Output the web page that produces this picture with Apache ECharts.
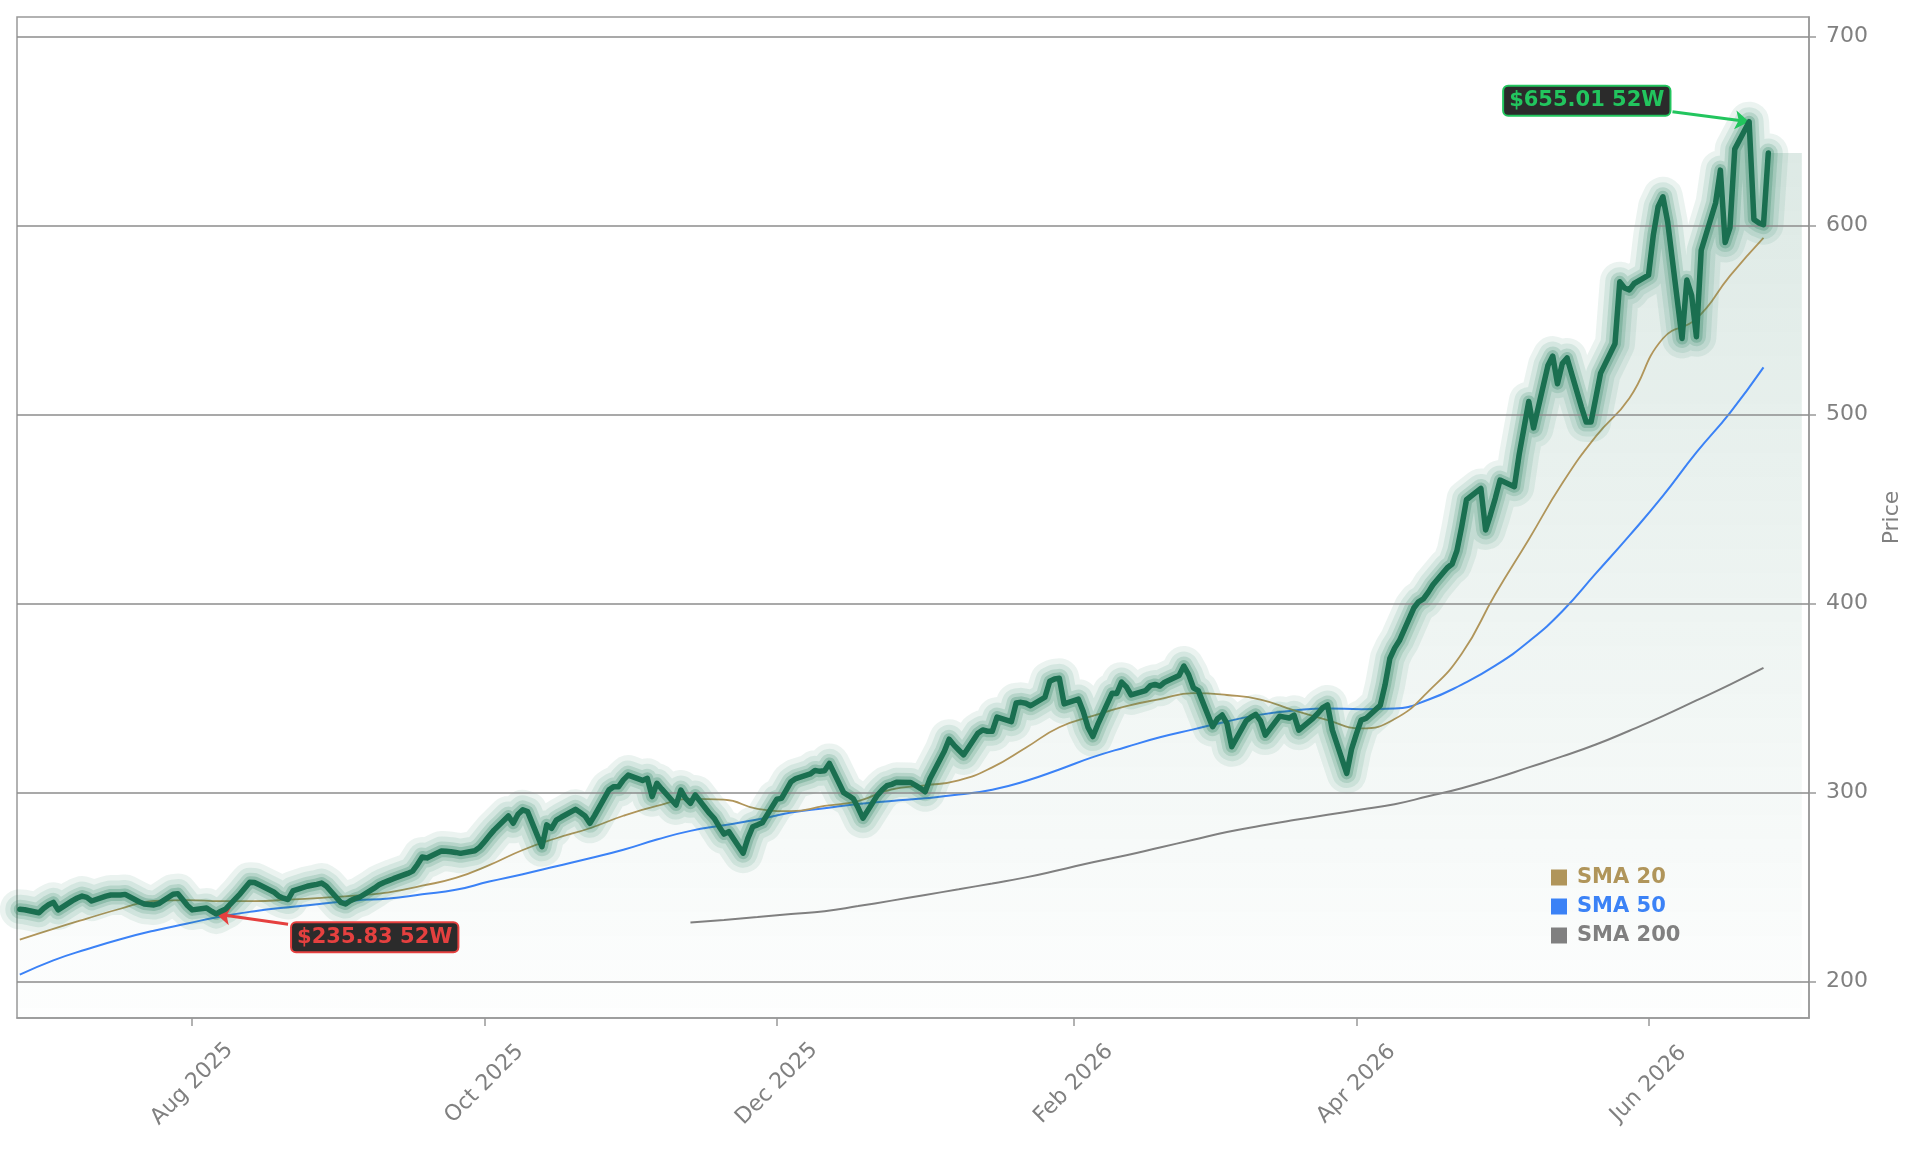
<!DOCTYPE html>
<html>
<head>
<meta charset="utf-8">
<script src="https://cdn.jsdelivr.net/npm/echarts@6/dist/echarts.min.js"></script>
<style>
html, body { margin: 0; padding: 0; background: #fff; }
#chart { width: 1921px; height: 1151px; }
</style>
</head>
<body>
<div id="chart"></div>
<script>
// closing prices, one per weekday starting 2025-06-26
var startDay = '2025-06-26';
var closes = [
  238.3, 238.1,
  236.5, 238.9, 240.7, 242.0, 238.0,
  242.9, 244.3, 245.3, 244.6, 242.7,
  245.3, 245.9, 245.9, 245.9, 246.2,
  242.2, 241.1, 240.8, 240.6, 241.3,
  246.3, 246.6, 243.5, 240.3, 238.0,
  239.0, 237.3, 235.83, 237.3, 238.5,
  246.5, 249.6, 252.6, 252.5, 251.3,
  247.5, 245.4, 244.2, 243.5, 248.0,
  250.5, 251.0, 251.5, 252.2, 250.5,
  242.0, 241.1, 242.8, 244.0, 244.8,
  249.5, 251.3, 252.5, 253.5, 254.5,
  257.3, 258.5, 262.0, 266.0, 265.5,
  269.2, 269.0, 268.8, 268.4, 267.9,
  269.3, 271.1, 274.1, 277.2, 280.2,
  287.7, 283.8, 288.6, 290.9, 290.0,
  271.4, 283.0, 281.1, 285.5, 287.0,
  291.2, 289.5, 287.7, 283.8, 288.0,
  301.5, 303.2, 303.2, 306.8, 309.3,
  306.5, 307.6, 297.9, 305.0, 302.0,
  293.5, 301.4, 297.0, 294.4, 298.8,
  289.0, 286.3, 282.0, 278.1, 279.4,
  268.0, 276.0, 282.0, 283.0, 284.1,
  296.5, 297.0, 301.4, 305.8, 307.5,
  309.9, 311.8, 311.3, 311.6, 315.5,
  300.0, 298.5, 296.8, 292.0, 286.5,
  298.6, 301.4, 303.7, 304.4, 305.5,
  305.4, 303.9, 302.3, 300.5, 307.4,
  321.9, 328.3, 325.2, 322.6, 320.0,
  331.5, 333.2, 332.5, 332.5, 340.0,
  337.6, 347.5, 347.8, 347.3, 346.0,
  350.5, 359.0, 360.2, 360.5, 347.0,
  349.5, 343.0, 334.5, 329.7, 336.0,
  352.6, 352.5, 358.5, 356.0, 351.7,
  354.0, 356.6, 357.3, 356.4, 358.5,
  362.0, 367.0, 362.5, 355.5, 354.0,
  334.9, 339.0, 341.1, 336.7, 324.3,
  338.0, 340.0, 341.5, 338.0, 330.5,
  340.5, 340.0, 339.5, 341.0, 333.1,
  339.5, 342.0, 345.0, 346.4, 333.1,
  310.2, 323.0, 331.0, 338.4, 339.3,
  346.2, 357.0, 371.0, 376.5, 380.5,
  397.7, 401.0, 402.5, 406.0, 410.0,
  419.0, 421.0, 428.0, 440.7, 455.0,
  461.0, 439.0, 447.0, 455.7, 465.4,
  461.9, 479.0, 493.0, 507.0, 493.0,
  526.0, 531.0, 516.4, 527.0, 530.0,
  504.0, 496.1, 496.1, 509.0, 522.0,
  537.5, 570.3, 567.0, 566.0, 569.4,
  573.8, 595.0, 610.0, 615.3, 602.0,
  540.3, 571.2, 563.2, 541.2, 587.0,
  612.0, 629.4, 591.1, 599.0, 640.5,
  655.01, 603.3, 601.5, 600.5, 638.4
];

// moving averages, read once a week (every 5th weekday)
var sma20 = [
  222.3, 228.0, 233.4, 238.6, 242.7, 243.2, 242.6, 242.6, 243.4, 244.4,
  245.5, 247.3, 250.8, 254.9, 261.7, 269.7, 275.9, 281.2, 287.8, 293.0,
  296.7, 296.3, 291.5, 290.2, 293.0, 295.6, 301.8, 303.9, 306.5, 313.4,
  323.8, 334.6, 340.6, 345.8, 349.5, 352.7, 351.7, 349.3, 343.6, 338.4,
  334.0, 339.0, 353.5, 373.5, 405.0, 434.0, 463.7, 488.5, 508.7, 540.3,
  550.8, 573.4, 593.5
];
var sma50 = [
  203.7, 211.3, 217.2, 222.5, 227.0, 230.8, 234.5, 237.3, 239.4, 241.2,
  243.0, 244.0, 246.3, 248.6, 253.0, 256.9, 261.1, 265.3, 269.8, 275.2,
  279.8, 282.8, 285.8, 289.5, 291.8, 294.0, 295.6, 297.1, 299.0, 301.6,
  306.2, 312.3, 318.8, 324.2, 329.3, 333.5, 337.7, 341.3, 343.5, 344.6,
  344.1, 344.5, 349.2, 357.2, 367.2, 380.0, 396.0, 416.0, 436.0, 457.0,
  480.0, 501.0, 525.0
];
var sma200 = [
  null, null, null, null, null, null, null, null, null, null,
  null, null, null, null, null, null, null, null, null, null,
  231.3, 232.7, 234.2, 235.8, 237.3, 240.0, 242.9, 245.9, 248.9, 252.0,
  255.2, 259.1, 263.2, 266.9, 271.0, 275.1, 279.2, 282.5, 285.5, 288.3,
  291.1, 293.9, 298.1, 302.4, 307.6, 313.4, 319.2, 325.5, 332.8, 340.5,
  348.8, 357.2, 366.0
];

var yTicks = [200, 300, 400, 500, 600, 700];
var xTickDays = ['2025-08-01', '2025-10-01', '2025-12-01', '2026-02-01', '2026-04-01', '2026-06-01'];
var xStart = '2025-06-25T10:00:00';
var xEnd = '2026-07-04T12:00:00';
var fillEnd = '2026-07-03';
var monthNames = ['Jan', 'Feb', 'Mar', 'Apr', 'May', 'Jun', 'Jul', 'Aug', 'Sep', 'Oct', 'Nov', 'Dec'];

var FONT = 'DejaVu Sans';
var DAY = 86400000;

function toTime(s) {
  return new Date(s.length > 10 ? s : s + 'T00:00:00').getTime();
}

// weekdays for the closes
var dates = [];
var cur = new Date(startDay + 'T00:00:00');
while (dates.length < closes.length) {
  var wd = cur.getDay();
  if (wd !== 0 && wd !== 6) dates.push(cur.getTime());
  cur.setDate(cur.getDate() + 1);
}

var priceData = dates.map(function (t, i) { return [t, closes[i]]; });
var fillData = [[toTime(xStart), closes[0]]].concat(priceData, [[toTime(fillEnd), closes[closes.length - 1]]]);

function weekly(arr) {
  return arr.map(function (v, i) { return [dates[i * 5], v]; });
}

var hiIdx = 0, loIdx = 0;
closes.forEach(function (v, i) {
  if (v > closes[hiIdx]) hiIdx = i;
  if (v < closes[loIdx]) loIdx = i;
});
var hi = [dates[hiIdx], closes[hiIdx]];
var lo = [dates[loIdx], closes[loIdx]];
var hiFrom = [hi[0] - 16 * DAY, hi[1] + 5.3];
var loFrom = [lo[0] + 15 * DAY, lo[1] - 5.4];

var GREEN = '#22c55e';
var RED = '#e5403f';

function glow(width, opacity) {
  return {
    type: 'line',
    data: priceData,
    showSymbol: false,
    silent: true,
    z: 4,
    lineStyle: { color: '#1f7d58', width: width, opacity: opacity, join: 'round', cap: 'round' }
  };
}

var xTickTimes = xTickDays.map(toTime);

var chart = echarts.init(document.getElementById('chart'));
chart.setOption({
  animation: false,
  grid: { left: 17, right: 112, top: 17, bottom: 133, show: true, borderColor: '#999', borderWidth: 1.5 },
  legend: {
    orient: 'vertical',
    left: 1546,
    top: 862,
    icon: 'rect',
    itemWidth: 16,
    itemHeight: 16,
    itemGap: 8,
    selectedMode: false,
    textStyle: { fontFamily: FONT, fontSize: 21, fontWeight: 'bold', padding: [0, 0, 0, 5] },
    data: [
      { name: 'SMA 20', textStyle: { color: '#b0955a' } },
      { name: 'SMA 50', textStyle: { color: '#3b82f6' } },
      { name: 'SMA 200', textStyle: { color: '#808080' } }
    ]
  },
  xAxis: {
    // dates as timestamps on a value axis, so the ticks can sit on month starts
    type: 'value',
    min: toTime(xStart),
    max: toTime(xEnd),
    axisLine: { show: true, onZero: false, lineStyle: { color: '#999', width: 1.5 } },
    axisTick: {
      show: true, length: 8,
      customValues: xTickTimes,
      lineStyle: { color: '#999', width: 1.5 }
    },
    axisLabel: {
      customValues: xTickTimes,
      rotate: 45,
      align: 'center',
      verticalAlign: 'middle',
      margin: 66,
      fontFamily: FONT,
      fontSize: 22,
      color: '#808080',
      formatter: function (v) {
        var d = new Date(v);
        return monthNames[d.getMonth()] + ' ' + d.getFullYear();
      }
    },
    splitLine: { show: false }
  },
  yAxis: {
    type: 'value',
    position: 'right',
    min: 180.8,
    max: 710.4,
    name: 'Price',
    nameLocation: 'middle',
    nameRotate: 90,
    nameGap: 72,
    nameTextStyle: { fontFamily: FONT, fontSize: 22, color: '#808080' },
    axisLine: { show: true, lineStyle: { color: '#999', width: 1.5 } },
    axisTick: { show: true, length: 7, customValues: yTicks, lineStyle: { color: '#999', width: 1.5 } },
    axisLabel: { customValues: yTicks, margin: 17, fontFamily: FONT, fontSize: 22, color: '#808080' },
    splitLine: { show: false }
  },
  series: [
    {
      // horizontal grid lines, kept under the shaded area
      type: 'line',
      data: priceData,
      showSymbol: false,
      silent: true,
      z: 1,
      lineStyle: { opacity: 0 },
      markLine: {
        silent: true,
        symbol: 'none',
        label: { show: false },
        lineStyle: { color: '#8c8c8c', width: 1.5, type: 'solid' },
        data: yTicks.map(function (v) { return { yAxis: v }; })
      }
    },
    {
      type: 'line',
      data: fillData,
      showSymbol: false,
      silent: true,
      z: 2,
      lineStyle: { width: 0 },
      areaStyle: {
        origin: 'start',
        color: new echarts.graphic.LinearGradient(0, 0, 0, 1, [
          { offset: 0, color: 'rgba(27,110,80,0.22)' },
          { offset: 1, color: 'rgba(27,110,80,0.01)' }
        ])
      }
    },
    {
      name: 'SMA 200', type: 'line', data: weekly(sma200), color: '#808080',
      showSymbol: false, smooth: 0.5, z: 3,
      lineStyle: { color: '#808080', width: 2 }
    },
    {
      name: 'SMA 50', type: 'line', data: weekly(sma50), color: '#3b82f6',
      showSymbol: false, smooth: 0.5, z: 3,
      lineStyle: { color: '#3b82f6', width: 2 }
    },
    {
      name: 'SMA 20', type: 'line', data: weekly(sma20), color: '#b0955a',
      showSymbol: false, smooth: 0.5, z: 3,
      lineStyle: { color: '#b0955a', width: 1.8 }
    },
    glow(40, 0.09),
    glow(29, 0.11),
    glow(19, 0.16),
    glow(12, 0.25),
    {
      type: 'line',
      data: priceData,
      showSymbol: false,
      z: 5,
      lineStyle: { color: '#1a6f50', width: 5.5, join: 'round', cap: 'round' },
      markLine: {
        silent: true,
        symbol: ['none', 'arrow'],
        symbolSize: 14,
        label: { show: false },
        data: [
          [{ coord: hiFrom, lineStyle: { color: GREEN, width: 3, type: 'solid' } }, { coord: hi }],
          [{ coord: loFrom, lineStyle: { color: RED, width: 3, type: 'solid' } }, { coord: lo }]
        ]
      },
      markPoint: {
        silent: true,
        symbol: 'circle',
        symbolSize: 0,
        data: [
          {
            coord: hiFrom,
            label: {
              show: true, position: 'left', distance: 3, offset: [0, -11],
              formatter: '$' + hi[1].toFixed(2) + ' 52W',
              fontFamily: FONT, fontSize: 21, fontWeight: 'bold', lineHeight: 22,
              color: GREEN, backgroundColor: '#2b2b2b',
              borderColor: GREEN, borderWidth: 2, borderRadius: 4, padding: [3, 5]
            }
          },
          {
            coord: loFrom,
            label: {
              show: true, position: 'right', distance: 4, offset: [0, 13],
              formatter: '$' + lo[1].toFixed(2) + ' 52W',
              fontFamily: FONT, fontSize: 21, fontWeight: 'bold', lineHeight: 22,
              color: RED, backgroundColor: '#2b2b2b',
              borderColor: RED, borderWidth: 2, borderRadius: 4, padding: [3, 5]
            }
          }
        ]
      }
    }
  ]
});
</script>
</body>
</html>
